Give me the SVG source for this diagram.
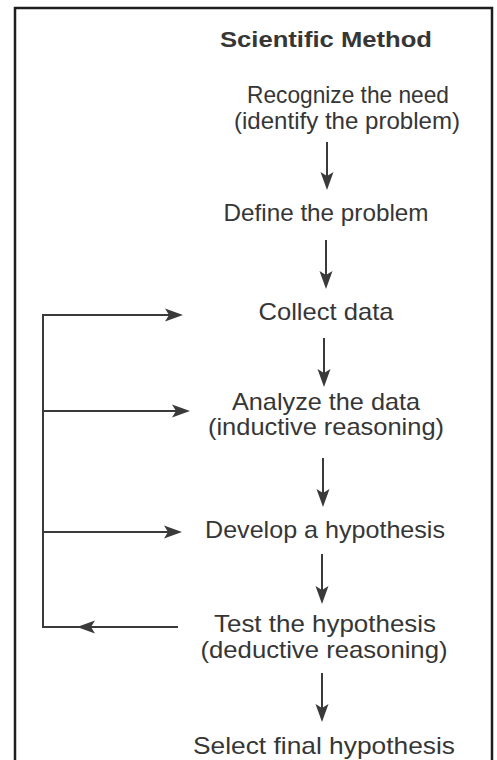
<svg xmlns="http://www.w3.org/2000/svg" width="497" height="760" viewBox="0 0 497 760">
<style>
.t{font-family:"Liberation Sans",Arial,sans-serif;font-size:24px;fill:#363636;text-anchor:middle}
.h{font-weight:bold;font-size:22px}
.c{fill:none;stroke:#3a3a3a;stroke-width:2}
.a{marker-end:url(#ah)}
</style>
<defs>
<marker id="ah" viewBox="-19 -8 20 16" refX="-8" refY="0" markerWidth="20" markerHeight="16" orient="auto" markerUnits="userSpaceOnUse">
<path d="M0,0 L-18,-6.5 L-14,0 L-18,6.5 Z" fill="#3a3a3a"/>
</marker>
</defs>
<rect x="0" y="0" width="497" height="760" fill="#fff"/>
<rect x="15" y="8" width="477" height="800" fill="none" stroke="#1e1e1e" stroke-width="2.5"/>
<g id="title"><text class="t h" x="326" y="47" textLength="212" lengthAdjust="spacingAndGlyphs">Scientific Method</text></g>
<g id="recognize"><text class="t" x="348" y="103" textLength="202" lengthAdjust="spacingAndGlyphs">Recognize the need</text><text class="t" x="347" y="129" textLength="226" lengthAdjust="spacingAndGlyphs">(identify the problem)</text></g>
<g id="define"><text class="t" x="326" y="221" textLength="205" lengthAdjust="spacingAndGlyphs">Define the problem</text></g>
<g id="collect"><text class="t" x="326" y="320" textLength="135" lengthAdjust="spacingAndGlyphs">Collect data</text></g>
<g id="analyze"><text class="t" x="326" y="410" textLength="188" lengthAdjust="spacingAndGlyphs">Analyze the data</text><text class="t" x="326" y="435" textLength="236" lengthAdjust="spacingAndGlyphs">(inductive reasoning)</text></g>
<g id="develop"><text class="t" x="325" y="538" textLength="240" lengthAdjust="spacingAndGlyphs">Develop a hypothesis</text></g>
<g id="test"><text class="t" x="325" y="632" textLength="222" lengthAdjust="spacingAndGlyphs">Test the hypothesis</text><text class="t" x="324" y="658" textLength="247" lengthAdjust="spacingAndGlyphs">(deductive reasoning)</text></g>
<g id="select"><text class="t" x="324" y="754" textLength="262" lengthAdjust="spacingAndGlyphs">Select final hypothesis</text></g>
<g id="connectors">
<path class="c a" d="M327,142 V182"/>
<path class="c a" d="M326,240 V281"/>
<path class="c a" d="M324,338 V379"/>
<path class="c a" d="M323,458 V499"/>
<path class="c a" d="M322,554 V596"/>
<path class="c a" d="M322,673 V714"/>
<path class="c a" d="M178,627 H85"/>
<path class="c a" d="M86,627 H43 V315 H175"/>
<path class="c a" d="M43,411 H182"/>
<path class="c a" d="M43,532 H174"/>
</g>
</svg>
